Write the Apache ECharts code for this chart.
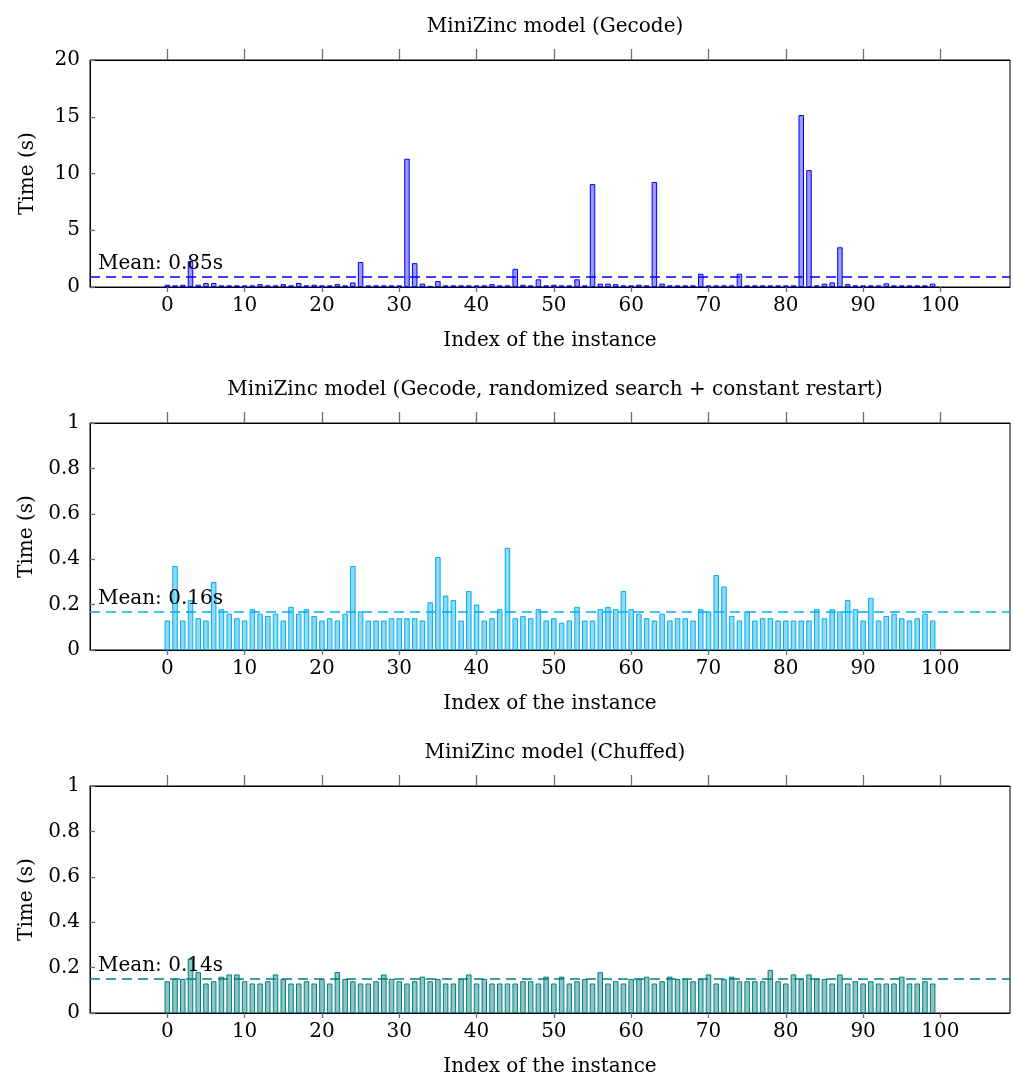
<!DOCTYPE html>
<html>
<head>
<meta charset="utf-8">
<script src="https://cdn.jsdelivr.net/npm/echarts@6/dist/echarts.min.js"></script>
<style>
  body { margin: 0; background: #fff; }
  #main { width: 1013px; height: 1087px; }
</style>
</head>
<body>
<div id="main"></div>
<script>
// run times per instance (s)
var gecode = [0.2, 0.15, 0.2, 2.3, 0.2, 0.35, 0.35, 0.15, 0.15, 0.15,
    0.15, 0.15, 0.25, 0.15, 0.15, 0.25, 0.15, 0.35, 0.15, 0.2,
    0.15, 0.15, 0.25, 0.15, 0.4, 2.2, 0.15, 0.15, 0.15, 0.15,
    0.15, 11.3, 2.1, 0.3, 0.1, 0.53, 0.15, 0.15, 0.15, 0.15,
    0.15, 0.15, 0.25, 0.15, 0.15, 1.6, 0.2, 0.15, 0.68, 0.15,
    0.2, 0.15, 0.15, 0.68, 0.15, 9.07, 0.3, 0.3, 0.25, 0.15,
    0.15, 0.2, 0.15, 9.25, 0.3, 0.15, 0.15, 0.15, 0.15, 1.17,
    0.15, 0.15, 0.15, 0.15, 1.17, 0.15, 0.15, 0.15, 0.15, 0.15,
    0.15, 0.15, 15.15, 10.3, 0.15, 0.3, 0.41, 3.5, 0.25, 0.15,
    0.15, 0.15, 0.15, 0.32, 0.15, 0.15, 0.15, 0.15, 0.15, 0.3];

var randomized = [0.13, 0.37, 0.13, 0.22, 0.14, 0.13, 0.30, 0.18, 0.16, 0.14,
    0.13, 0.18, 0.16, 0.15, 0.16, 0.13, 0.19, 0.16, 0.18, 0.15,
    0.13, 0.14, 0.13, 0.16, 0.37, 0.17, 0.13, 0.13, 0.13, 0.14,
    0.14, 0.14, 0.14, 0.13, 0.21, 0.41, 0.24, 0.22, 0.13, 0.26,
    0.20, 0.13, 0.14, 0.18, 0.45, 0.14, 0.15, 0.14, 0.18, 0.13,
    0.14, 0.12, 0.13, 0.19, 0.13, 0.13, 0.18, 0.19, 0.18, 0.26,
    0.18, 0.16, 0.14, 0.13, 0.16, 0.13, 0.14, 0.14, 0.13, 0.18,
    0.17, 0.33, 0.28, 0.15, 0.13, 0.17, 0.13, 0.14, 0.14, 0.13,
    0.13, 0.13, 0.13, 0.13, 0.18, 0.14, 0.18, 0.17, 0.22, 0.18,
    0.13, 0.23, 0.13, 0.15, 0.16, 0.14, 0.13, 0.14, 0.16, 0.13];

var chuffed = [0.14, 0.15, 0.15, 0.24, 0.18, 0.13, 0.14, 0.16, 0.17, 0.17,
    0.14, 0.13, 0.13, 0.14, 0.17, 0.15, 0.13, 0.13, 0.14, 0.13,
    0.15, 0.13, 0.18, 0.15, 0.14, 0.13, 0.13, 0.14, 0.17, 0.15,
    0.14, 0.13, 0.14, 0.16, 0.14, 0.15, 0.13, 0.13, 0.15, 0.17,
    0.13, 0.15, 0.13, 0.13, 0.13, 0.13, 0.14, 0.14, 0.13, 0.16,
    0.13, 0.16, 0.13, 0.14, 0.15, 0.13, 0.18, 0.13, 0.14, 0.13,
    0.15, 0.15, 0.16, 0.13, 0.14, 0.16, 0.15, 0.15, 0.14, 0.15,
    0.17, 0.13, 0.15, 0.16, 0.14, 0.14, 0.14, 0.14, 0.19, 0.14,
    0.13, 0.17, 0.15, 0.17, 0.15, 0.15, 0.13, 0.17, 0.13, 0.14,
    0.13, 0.14, 0.13, 0.13, 0.13, 0.16, 0.13, 0.13, 0.14, 0.13];

var titles = ['MiniZinc model (Gecode)',
    'MiniZinc model (Gecode, randomized search + constant restart)',
    'MiniZinc model (Chuffed)'];
var meanValues = [0.88, 0.172, 0.146];
var meanLabels = ['Mean: 0.85s', 'Mean: 0.16s', 'Mean: 0.14s'];
var xTicks = [0, 10, 20, 30, 40, 50, 60, 70, 80, 90, 100];
var yMax = [20, 1, 1];
var yStep = [5, 0.2, 0.2];

var allData = [gecode, randomized, chuffed];
var lineColors = ['#0000ff', '#00aeef', '#007f7f'];
var fillColors = ['rgba(0,0,255,0.4)', 'rgba(0,174,239,0.45)', 'rgba(0,128,128,0.45)'];
var plotTops = [60, 423, 786];

var FONT = 'DejaVu Serif';
var FS = 20;
var TICK = { color: '#6f6f6f', width: 1.3 };

var myChart = echarts.init(document.getElementById('main'));

var title = [], grid = [], xAxis = [], yAxis = [], series = [];

for (var k = 0; k < 3; k++) {
    title.push({
        text: titles[k],
        left: 550,
        top: plotTops[k] - 48,
        textAlign: 'center',
        textStyle: { fontFamily: FONT, fontSize: FS, fontWeight: 'normal', color: '#000' }
    });

    grid.push({
        left: 90, width: 920, top: plotTops[k], height: 227,
        show: true, borderColor: '#000', borderWidth: 1
    });

    // bottom axis with labels
    xAxis.push({
        type: 'value', gridIndex: k, min: -10, max: 109,
        position: 'bottom',
        name: 'Index of the instance', nameLocation: 'middle', nameGap: 44,
        nameTextStyle: { fontFamily: FONT, fontSize: FS, color: '#000' },
        axisLine: { show: true, onZero: false, lineStyle: { color: '#000', width: 1 } },
        axisTick: { show: true, customValues: xTicks, length: 5, lineStyle: TICK },
        axisLabel: { customValues: xTicks, fontFamily: FONT, fontSize: FS, color: '#000', margin: 9 },
        splitLine: { show: false }
    });
    // mirrored top ticks
    xAxis.push({
        type: 'value', gridIndex: k, min: -10, max: 109,
        position: 'top',
        axisLine: { show: true, onZero: false, lineStyle: { color: '#000', width: 1 } },
        axisTick: { show: true, customValues: xTicks, length: 11, lineStyle: TICK },
        axisLabel: { show: false },
        splitLine: { show: false }
    });

    yAxis.push({
        type: 'value', gridIndex: k, min: 0, max: yMax[k], interval: yStep[k],
        position: 'left',
        name: 'Time (s)', nameLocation: 'middle', nameGap: 52, nameRotate: 90,
        nameTextStyle: { fontFamily: FONT, fontSize: FS, color: '#000' },
        axisLine: { show: true, onZero: false, lineStyle: { color: '#000', width: 1 } },
        axisTick: { show: true, inside: true, length: 5, lineStyle: TICK },
        axisLabel: { fontFamily: FONT, fontSize: FS, color: '#000', margin: 10 },
        splitLine: { show: false }
    });

    series.push({
        type: 'bar',
        xAxisIndex: k * 2,
        yAxisIndex: k,
        barWidth: 5.5,
        data: allData[k].map(function (v, i) { return [i, v]; }),
        itemStyle: { color: fillColors[k], borderColor: lineColors[k], borderWidth: 1 },
        silent: true,
        markLine: {
            symbol: 'none',
            silent: true,
            data: [{ yAxis: meanValues[k] }],
            lineStyle: { color: lineColors[k], type: [10, 6], width: 1.6 },
            label: {
                show: true, position: 'insideStartTop', formatter: meanLabels[k],
                fontFamily: FONT, fontSize: FS, color: '#000', distance: [8, 3]
            }
        }
    });
}

var option = {
    animation: false,
    backgroundColor: '#fff',
    title: title,
    grid: grid,
    xAxis: xAxis,
    yAxis: yAxis,
    series: series
};

myChart.setOption(option);
</script>
</body>
</html>
